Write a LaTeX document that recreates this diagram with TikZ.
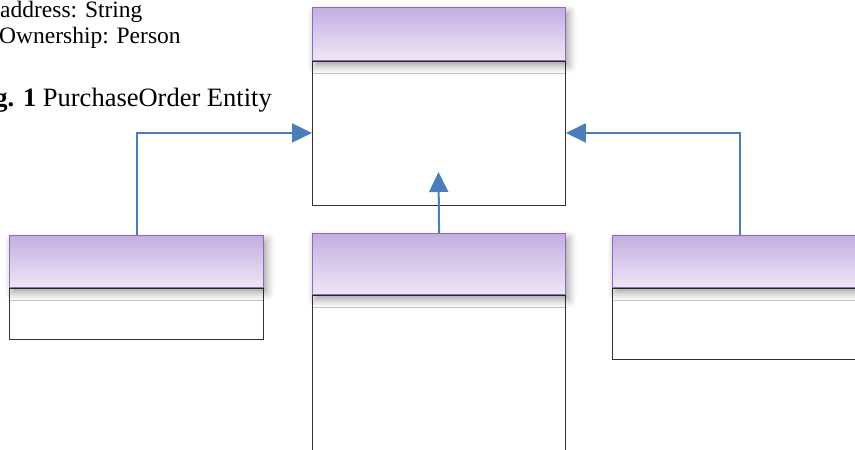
\documentclass[tikz,border=0pt]{standalone}
\usepackage{fontspec}
\setmainfont{Liberation Serif}
\usetikzlibrary{shadows.blur,arrows.meta}
\definecolor{hdtop}{RGB}{196,174,225}
\definecolor{hdbot}{RGB}{238,231,246}
\definecolor{hdborder}{RGB}{140,108,180}
\definecolor{hdline}{RGB}{45,30,60}
\definecolor{bodyline}{RGB}{50,50,50}
\definecolor{arrowblue}{RGB}{74,126,187}
\tikzset{
  header/.style={rectangle, draw=hdborder, line width=1.2pt, top color=hdtop, bottom color=hdbot,
    anchor=north west, inner sep=0pt,
    blur shadow={shadow xshift=3pt, shadow yshift=-5pt, shadow blur radius=8pt, shadow opacity=40}},
  bodybox/.style={rectangle, draw=bodyline, line width=0.9pt, fill=white, anchor=north west, inner sep=0pt},
  conn/.style={draw=arrowblue, line width=2pt, -{Triangle[length=20pt,width=19pt]}},
  txt/.style={font=\fontsize{23.5}{23.5}\selectfont, inner sep=0pt},
  captxt/.style={font=\fontsize{26.5}{26.5}\selectfont, inner sep=0pt}
}
\begin{document}
\begin{tikzpicture}[x=1pt,y=-1pt]
\useasboundingbox (0,0) rectangle (855,450);
% texts
\node[txt, anchor=base west] (t1) at (0,17) {address: String};
\node[txt, anchor=base west] (t2) at (-1,43) {Ownership: Person};
\node[captxt, anchor=base east] (t3) at (272,106) {\textbf{Fig. 1} PurchaseOrder Entity};
% bodies
\node[bodybox, minimum width=253pt, minimum height=145pt] (b1) at (312,60) {};
\node[bodybox, minimum width=254pt, minimum height=52pt] (b2) at (9,287) {};
\node[bodybox, minimum width=253pt, minimum height=180pt] (b3) at (312,294) {};
\node[bodybox, minimum width=254pt, minimum height=72pt] (b4) at (612,287) {};
% headers
\node[header, minimum width=253pt, minimum height=53pt] (h1) at (312,7) {};
\node[header, minimum width=254pt, minimum height=52pt] (h2) at (9,235) {};
\node[header, minimum width=253pt, minimum height=61pt] (h3) at (312,233) {};
\node[header, minimum width=254pt, minimum height=52pt] (h4) at (612,235) {};
\foreach \h in {h1,h2,h3,h4}{
  \draw[hdline, line width=1.2pt] (\h.south west) -- (\h.south east);
}
% connectors
\coordinate (c3) at (438.5,172);
\draw[conn] (h2.north) |- (b1.west);
\draw[conn] (h4.north) |- (b1.east);
\draw[conn] (h3.north) -- (c3);
\end{tikzpicture}
\end{document}
